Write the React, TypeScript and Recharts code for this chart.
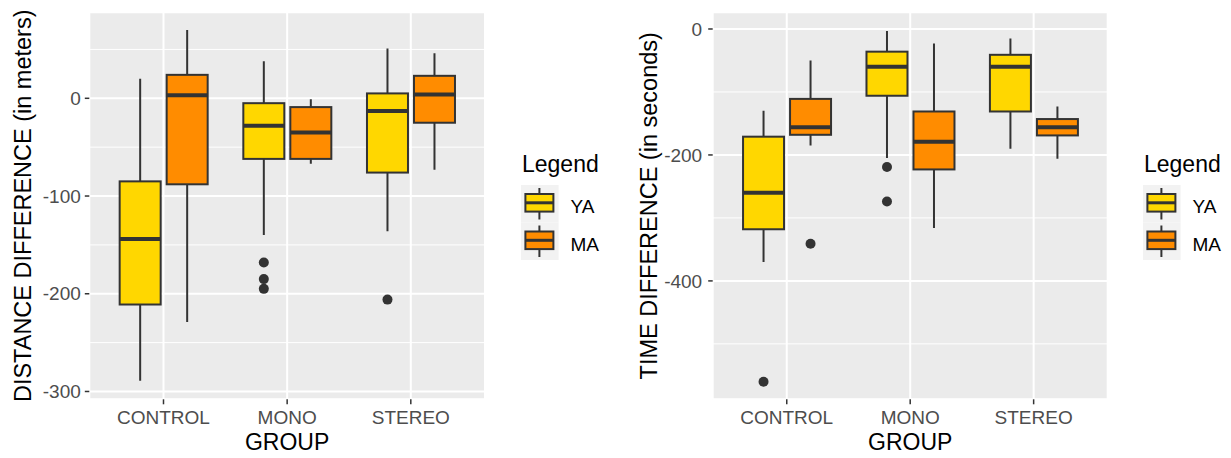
import { Bar, CartesianGrid, ComposedChart, Legend, XAxis, YAxis } from 'recharts';

const GROUPS = ['CONTROL', 'MONO', 'STEREO'];
const SERIES = ['YA', 'MA'];
const SERIES_COLORS = ['#FFD700', '#FF8C00'];

// per group: [lower whisker, Q1, median, Q3, upper whisker]
const DIST_YA = [
  [-289, -211, -144, -85, 20],
  [-140, -62, -28, -5, 38],
  [-136, -76, -13, 5, 51],
];
const DIST_MA = [
  [-229, -88, 3, 24, 70],
  [-67, -62, -35, -9, -1],
  [-73, -25, 4, 23, 46],
];
const DIST_YA_OUTLIERS = [[], [-168, -185, -195], [-206]];
const DIST_MA_OUTLIERS = [[], [], []];
const DIST_TICKS = [-300, -200, -100, 0];
const DIST_MINOR_TICKS = [-250, -150, -50, 50];
const DIST_DOMAIN = [-308, 88];

const TIME_YA = [
  [-370, -318, -260, -171, -130],
  [-205, -106, -60, -36, -3],
  [-190, -131, -60, -41, -15],
];
const TIME_MA = [
  [-185, -168, -156, -111, -50],
  [-316, -223, -179, -131, -23],
  [-206, -169, -156, -143, -123],
];
const TIME_YA_OUTLIERS = [[-560], [-219, -274], []];
const TIME_MA_OUTLIERS = [[-341], [], []];
const TIME_TICKS = [-400, -200, 0];
const TIME_MINOR_TICKS = [-500, -300, -100];
const TIME_DOMAIN = [-588, 26.5];

const INK = '#333333';
const FONT = '"Liberation Sans", Arial, Helvetica, sans-serif';

type Row = Record<string, any>;

function buildRows(ya: number[][], ma: number[][], yaOut: number[][], maOut: number[][]): Row[] {
  return GROUPS.map((group, i) => ({
    group,
    pos: i + 1,
    YA: ya[i],
    MA: ma[i],
    YA_out: yaOut[i],
    MA_out: maOut[i],
  }));
}

// Bar spans the whisker range; everything else is interpolated from that bar's own scale
function makeBoxShape(key: string, fill: string) {
  return (props: any) => {
    const { x, y, width, height, payload } = props;
    const stats: number[] = payload[key];
    const outliers: number[] = payload[`${key}_out`] ?? [];
    const lo = stats[0];
    const hi = stats[4];
    const top = Math.min(y, y + height);
    const span = Math.abs(height);
    const py = (v: number) => top + (span * (hi - v)) / (hi - lo);
    const cx = x + width / 2;
    return (
      <g>
        <line x1={cx} x2={cx} y1={py(stats[4])} y2={py(stats[3])} stroke={INK} strokeWidth={2} />
        <line x1={cx} x2={cx} y1={py(stats[1])} y2={py(stats[0])} stroke={INK} strokeWidth={2} />
        <rect
          x={x}
          y={py(stats[3])}
          width={width}
          height={py(stats[1]) - py(stats[3])}
          fill={fill}
          stroke={INK}
          strokeWidth={2}
        />
        <line x1={x} x2={x + width} y1={py(stats[2])} y2={py(stats[2])} stroke={INK} strokeWidth={4} />
        {outliers.map((v, j) => (
          <circle key={j} cx={cx} cy={py(v)} r={5} fill={INK} />
        ))}
      </g>
    );
  };
}

function renderLegend(props: any) {
  const items = [...(props.payload ?? [])].sort(
    (a: any, b: any) => SERIES.indexOf(a.value) - SERIES.indexOf(b.value),
  );
  return (
    <svg width={112} height={116} style={{ display: 'block', fontFamily: FONT }}>
      <text x={1} y={23.7} fontSize={23} fill="#000">
        Legend
      </text>
      {items.map((it: any, i: number) => {
        const top = 37 + i * 37.5;
        return (
          <g key={it.value}>
            <rect x={0} y={top} width={37.6} height={37.5} fill="#F2F2F2" />
            <line x1={18.4} x2={18.4} y1={top + 3} y2={top + 34.5} stroke={INK} strokeWidth={2} />
            <rect x={4.4} y={top + 9} width={28} height={17.6} fill={it.color} stroke={INK} strokeWidth={2} />
            <line x1={4.4} x2={32.4} y1={top + 17.8} y2={top + 17.8} stroke={INK} strokeWidth={3} />
            <text x={49.5} y={top + 28} fontSize={19} fill="#000">
              {it.value}
            </text>
          </g>
        );
      })}
    </svg>
  );
}

interface PanelProps {
  rows: Row[];
  width: number;
  plotLeft: number;
  plotRight: number;
  domain: number[];
  ticks: number[];
  minorTicks: number[];
  yTitle: string;
  yTitleX: number;
  tickMargin: number;
  legendLeft: number;
}

function BoxPanel({
  rows,
  width,
  plotLeft,
  plotRight,
  domain,
  ticks,
  minorTicks,
  yTitle,
  yTitleX,
  tickMargin,
  legendLeft,
}: PanelProps) {
  const xTicks = GROUPS.map((_, i) => i + 1);
  return (
    <ComposedChart
      width={width}
      height={458}
      data={rows}
      margin={{ top: 12.3, right: width - plotRight, bottom: 0, left: 0 }}
      barSize={41}
      barGap={6}
    >
      <CartesianGrid yAxisId="minor" vertical={false} fill="#EBEBEB" stroke="#FFFFFF" strokeWidth={1} />
      <CartesianGrid stroke="#FFFFFF" strokeWidth={2} />
      <XAxis
        type="number"
        dataKey="pos"
        domain={[0.4, GROUPS.length + 0.6]}
        ticks={xTicks}
        allowDataOverflow
        interval={0}
        height={58.7}
        tickFormatter={(v: number) => GROUPS[v - 1] ?? ''}
        axisLine={false}
        tickLine={{ stroke: INK, strokeWidth: 1.5 }}
        tickSize={5}
        tickMargin={6.5}
        tick={{ fontSize: 19, fill: '#4D4D4D' }}
        label={{ value: 'GROUP', position: 'insideBottom', offset: 8, fill: '#000', fontSize: 23 }}
      />
      <YAxis
        type="number"
        domain={domain}
        ticks={ticks}
        allowDataOverflow
        interval={0}
        width={plotLeft}
        axisLine={false}
        tickLine={{ stroke: INK, strokeWidth: 1.5 }}
        tickSize={4.5}
        tickMargin={tickMargin}
        tick={{ fontSize: 19, fill: '#4D4D4D' }}
        label={{
          value: yTitle,
          angle: -90,
          position: 'insideLeft',
          offset: yTitleX,
          fill: '#000',
          fontSize: 23.5,
          style: { textAnchor: 'middle' },
        }}
      />
      <YAxis yAxisId="minor" type="number" domain={domain} ticks={minorTicks} allowDataOverflow hide />
      <Legend
        layout="vertical"
        align="center"
        verticalAlign="middle"
        wrapperStyle={{ left: legendLeft, top: 148, width: 112, height: 116 }}
        content={renderLegend}
      />
      {SERIES.map((s, i) => (
        <Bar
          key={s}
          name={s}
          dataKey={(r: Row) => [r[s][0], r[s][4]]}
          fill={SERIES_COLORS[i]}
          shape={makeBoxShape(s, SERIES_COLORS[i])}
          isAnimationActive={false}
        />
      ))}
    </ComposedChart>
  );
}

export default function App() {
  const distRows = buildRows(DIST_YA, DIST_MA, DIST_YA_OUTLIERS, DIST_MA_OUTLIERS);
  const timeRows = buildRows(TIME_YA, TIME_MA, TIME_YA_OUTLIERS, TIME_MA_OUTLIERS);
  return (
    <div
      style={{
        position: 'absolute',
        left: 0,
        top: 0,
        width: 1231,
        height: 458,
        background: '#fff',
        fontFamily: FONT,
      }}
    >
      <div style={{ position: 'absolute', left: 0, top: 0 }}>
        <BoxPanel
          rows={distRows}
          width={620}
          plotLeft={89.3}
          plotRight={485}
          domain={DIST_DOMAIN}
          ticks={DIST_TICKS}
          minorTicks={DIST_MINOR_TICKS}
          yTitle="DISTANCE DIFFERENCE (in meters)"
          yTitleX={22.5}
          tickMargin={4}
          legendLeft={520.7}
        />
      </div>
      <div style={{ position: 'absolute', left: 620, top: 0 }}>
        <BoxPanel
          rows={timeRows}
          width={611}
          plotLeft={92.7}
          plotRight={487.7}
          domain={TIME_DOMAIN}
          ticks={TIME_TICKS}
          minorTicks={TIME_MINOR_TICKS}
          yTitle="TIME DIFFERENCE (in seconds)"
          yTitleX={29}
          tickMargin={6}
          legendLeft={523}
        />
      </div>
    </div>
  );
}
